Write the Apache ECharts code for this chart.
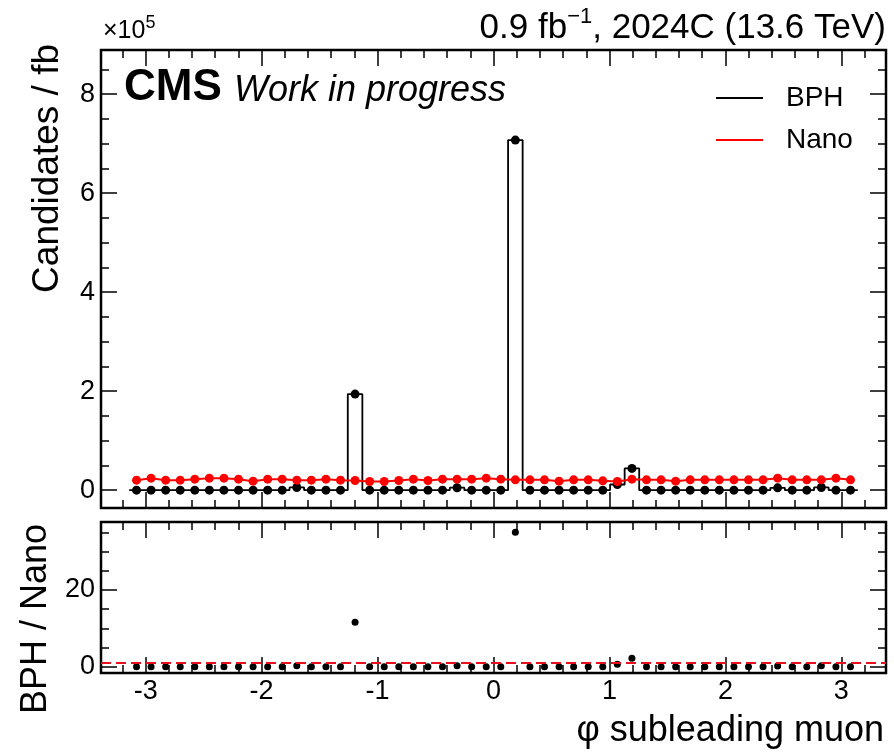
<!DOCTYPE html>
<html><head><meta charset="utf-8">
<script src="https://cdn.jsdelivr.net/npm/echarts@6/dist/echarts.min.js"></script>
<style>html,body{margin:0;padding:0;background:#fff}#c{width:894px;height:753px}</style>
</head><body><div id="c"></div>
<script>
// ---- data (50 bins of phi from -pi to pi) ----
const N_BINS = 50;
const PHI_MIN = -Math.PI;
const PHI_MAX = Math.PI;
const bph = [0,0,0,0,0,0,0,0,0,0, 0,5500,0,0,0,194000,0,0,0,0, 0,0,5000,0,0,0,707000,0,0,0, 0,0,0,11500,44000,0,0,0,0,0, 0,0,0,0,4700,0,0,5500,0,0];
const nano = [20200,24200,20200,20200,22200,24200,24200,22200,18200,22200,
              22200,20200,20200,22200,20200,19500,17500,17500,19500,22200,
              19500,22200,22200,22200,24200,22200,20900,20900,20900,18200,
              20900,20900,18900,17500,22200,20900,20900,18200,20900,20900,
              20900,20900,20900,20900,24200,20900,20900,20900,24200,20900];
const ratio = [0,0,0,0,0,0,0,0,0,0, 0,0.27,0,0,0,11.6,0,0,0,0, 0,0,0.23,0,0,0,35.0,0,0,0, 0,0,0,0.6,2.2,0,0,0,0,0, 0,0,0,0,0.2,0,0,0.26,0,0];
const xMajorTicks = [-3,-2,-1,0,1,2,3];
const xMinorTicks = [-3.2,-2.8,-2.6,-2.4,-2.2,-1.8,-1.6,-1.4,-1.2,-0.8,-0.6,-0.4,-0.2,0.2,0.4,0.6,0.8,1.2,1.4,1.6,1.8,2.2,2.4,2.6,2.8,3.2];
const yTopMajorTicks = [0,200000,400000,600000,800000];
const yTopMinorTicks = [50000,100000,150000,250000,300000,350000,450000,500000,550000,650000,700000,750000,850000];
const yRatioMajorTicks = [0,20];
const yRatioMinorTicks = [5,10,15,25,30,35];

const X_MIN = -3.385, X_MAX = 3.385;
const YT_MIN = -36000, YT_MAX = 889000;
const YR_MIN = -1.65, YR_MAX = 37.7;
const FONT = 'Liberation Sans';

// ---- derived series data ----
const binW = (PHI_MAX - PHI_MIN) / N_BINS;
const centers = bph.map((_, i) => PHI_MIN + (i + 0.5) * binW);
const stepData = [];
bph.forEach((v, i) => {
  stepData.push([PHI_MIN + i * binW, v]);
  stepData.push([PHI_MIN + (i + 1) * binW, v]);
});
const bphPts = bph.map((v, i) => [centers[i], v]);
const nanoPts = nano.map((v, i) => [centers[i], v]);
const ratioPts = ratio.map((v, i) => [centers[i], v]);

const MAJ = 16, MIN = 8;
function xAx(grid, pos, ticks, len, labels) {
  return {
    type: 'value', gridIndex: grid, position: pos, min: X_MIN, max: X_MAX,
    axisLine: { show: false, onZero: false }, splitLine: { show: false },
    axisTick: { show: true, inside: true, length: len, customValues: ticks, lineStyle: { color: '#000', width: 1.5 } },
    axisLabel: { show: labels, customValues: ticks, margin: 5, color: '#000', fontSize: 27, fontFamily: FONT,
      formatter: v => String(v) }
  };
}
function yAx(grid, pos, mn, mx, ticks, len, labels, fmt) {
  return {
    type: 'value', gridIndex: grid, position: pos, min: mn, max: mx,
    axisLine: { show: false, onZero: false }, splitLine: { show: false },
    axisTick: { show: true, inside: true, length: len, customValues: ticks, lineStyle: { color: '#000', width: 1.5 } },
    axisLabel: { show: labels, customValues: ticks, margin: 6, color: '#000', fontSize: 27, fontFamily: FONT,
      formatter: fmt }
  };
}

const chart = echarts.init(document.getElementById('c'), null, { renderer: 'canvas' });
chart.setOption({
  animation: false,
  backgroundColor: '#fff',
  grid: [
    { left: 101, right: 8, top: 50, height: 458, show: true, borderColor: '#000', borderWidth: 2.5, backgroundColor: 'transparent', containLabel: false },
    { left: 101, right: 8, top: 522, height: 151, show: true, borderColor: '#000', borderWidth: 2.5, backgroundColor: 'transparent', containLabel: false }
  ],
  xAxis: [
    xAx(0, 'bottom', xMajorTicks, MAJ, false),
    xAx(0, 'bottom', xMinorTicks, MIN, false),
    xAx(0, 'top', xMajorTicks, MAJ, false),
    xAx(0, 'top', xMinorTicks, MIN, false),
    xAx(1, 'bottom', xMajorTicks, MAJ, true),
    xAx(1, 'bottom', xMinorTicks, MIN, false),
    xAx(1, 'top', xMajorTicks, MAJ, false),
    xAx(1, 'top', xMinorTicks, MIN, false)
  ],
  yAxis: [
    yAx(0, 'left', YT_MIN, YT_MAX, yTopMajorTicks, MAJ, true, v => String(v / 100000)),
    yAx(0, 'left', YT_MIN, YT_MAX, yTopMinorTicks, MIN, false),
    yAx(0, 'right', YT_MIN, YT_MAX, yTopMajorTicks, MAJ, false),
    yAx(0, 'right', YT_MIN, YT_MAX, yTopMinorTicks, MIN, false),
    yAx(1, 'left', YR_MIN, YR_MAX, yRatioMajorTicks, MAJ, true, v => String(v)),
    yAx(1, 'left', YR_MIN, YR_MAX, yRatioMinorTicks, MIN, false),
    yAx(1, 'right', YR_MIN, YR_MAX, yRatioMajorTicks, MAJ, false),
    yAx(1, 'right', YR_MIN, YR_MAX, yRatioMinorTicks, MIN, false)
  ],
  legend: {
    data: ['BPH', 'Nano'], orient: 'vertical', left: 711, top: 78,
    itemWidth: 47, itemHeight: 2, icon: 'rect', itemGap: 12, selectedMode: false,
    textStyle: { fontSize: 28, fontFamily: FONT, color: '#000', padding: [0, 0, 0, 18], lineHeight: 30 }
  },
  series: [
    { name: 'BPH', type: 'line', xAxisIndex: 0, yAxisIndex: 0, data: stepData, showSymbol: false,
      color: '#000', lineStyle: { color: '#000', width: 1.8 }, z: 2 },
    { name: 'BPH points', type: 'scatter', xAxisIndex: 0, yAxisIndex: 0, data: bphPts,
      symbol: 'circle', symbolSize: 9, itemStyle: { color: '#000', opacity: 1 }, z: 3 },
    { name: 'Nano', type: 'line', xAxisIndex: 0, yAxisIndex: 0, data: nanoPts,
      symbol: 'circle', symbolSize: 9, showSymbol: true, color: '#ff0000',
      itemStyle: { color: '#ff0000', opacity: 1 }, lineStyle: { color: '#ff0000', width: 2 }, z: 4 },
    { name: 'Ratio', type: 'scatter', xAxisIndex: 4, yAxisIndex: 4, data: ratioPts,
      symbol: 'circle', symbolSize: 7, itemStyle: { color: '#000', opacity: 1 }, z: 3,
      markLine: { silent: true, symbol: 'none', label: { show: false },
        lineStyle: { color: '#e8101a', type: [10, 5], width: 2 },
        data: [{ yAxis: 1 }] } }
  ],
  graphic: [
    { type: 'text', left: 103, top: 14, style: { text: '{a|×10}{s|5}', rich: {
        a: { fontSize: 25, fontFamily: FONT, fill: '#000', lineHeight: 30, verticalAlign: 'bottom' },
        s: { fontSize: 18, fontFamily: FONT, fill: '#000', lineHeight: 30, verticalAlign: 'top' } } } },
    { type: 'text', right: 8, top: 6, style: { text: '{a|0.9 fb}{s|−1}{a|, 2024C (13.6 TeV)}', rich: {
        a: { fontSize: 35, fontFamily: FONT, fill: '#000', lineHeight: 40, verticalAlign: 'bottom' },
        s: { fontSize: 22, fontFamily: FONT, fill: '#000', lineHeight: 40, verticalAlign: 'top' } } } },
    { type: 'text', left: 124, top: 66, style: { text: 'CMS', font: 'bold 44px "Liberation Sans"', fill: '#000' } },
    { type: 'text', left: 234, top: 73, style: { text: 'Work in progress', font: 'italic 36px "Liberation Sans"', fill: '#000' } },
    { type: 'text', x: 48, y: 44, rotation: Math.PI / 2, style: { text: 'Candidates / fb', font: '37px "Liberation Sans"', fill: '#000', align: 'right', verticalAlign: 'middle' } },
    { type: 'text', x: 36, y: 524, rotation: Math.PI / 2, style: { text: 'BPH / Nano', font: '36px "Liberation Sans"', fill: '#000', align: 'right', verticalAlign: 'middle' } },
    { type: 'text', x: 884, y: 731, style: { text: 'φ subleading muon', font: '36px "Liberation Sans"', fill: '#000', align: 'right', verticalAlign: 'middle' } }
  ]
});
</script></body></html>
